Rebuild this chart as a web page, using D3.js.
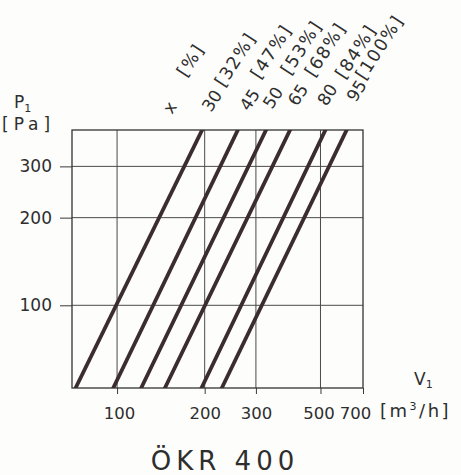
<!DOCTYPE html>
<html>
<head>
<meta charset="utf-8">
<script src="https://cdn.jsdelivr.net/npm/d3@7"></script>
<style>
  html, body { margin: 0; padding: 0; background: #fdfdfc; }
  svg { display: block; }
  text { font-family: "DejaVu Sans", sans-serif; fill: #2e2e2e; }
</style>
</head>
<body>
<svg id="chart" width="461" height="475"></svg>
<script>
// damper settings x [%] and their opening [%]
var settings = ["30", "45", "50", "65", "80", "95"];
var openings = [32, 47, 53, 68, 84, 100];
// flow V1 [m3/h] where each line meets the top and bottom of the frame
var flowAtTop = [196, 260, 325, 393, 520, 615];
var flowAtBottom = [72, 97, 121, 146, 195, 229];
var pressureEnds = [52, 400];   // P1 [Pa] at bottom / top of frame
var xTicks = [100, 200, 300, 500, 700];
var yTicks = [100, 200, 300];

var svg = d3.select("#chart");
var frameL = 72, frameR = 363, frameT = 130, frameB = 388;

var x = d3.scaleLog().domain([70, 700]).range([frameL, frameR]);
var y = d3.scaleLog().domain(pressureEnds).range([frameB, frameT]);

//grid
var grid = svg.append("g").attr("stroke", "#4a4a4a").attr("stroke-width", 1);
grid.selectAll(".vg")
  .data(xTicks.slice(0, -1))
  .enter().append("line")
  .attr("x1", function(d) { return x(d); })
  .attr("x2", function(d) { return x(d); })
  .attr("y1", frameT).attr("y2", frameB);
grid.selectAll(".hg")
  .data(yTicks)
  .enter().append("line")
  .attr("x1", frameL).attr("x2", frameR)
  .attr("y1", function(d) { return y(d); })
  .attr("y2", function(d) { return y(d); });

//axes
var xAxis = svg.append("g")
  .attr("transform", "translate(0," + frameB + ")")
  .call(d3.axisBottom(x).tickValues(xTicks).tickFormat(d3.format("d")).tickSize(6).tickPadding(13));
var yAxis = svg.append("g")
  .attr("transform", "translate(" + frameL + ",0)")
  .call(d3.axisLeft(y).tickValues(yTicks).tickFormat(d3.format("d")).tickSize(12).tickPadding(8));

[xAxis, yAxis].forEach(function(a) {
  a.select(".domain").remove();
  a.selectAll(".tick line").attr("stroke", "#3a3a3a");
  a.selectAll(".tick text").attr("font-size", 17).attr("fill", "#2e2e2e")
    .style("font-family", "'DejaVu Sans', sans-serif");
});
xAxis.selectAll(".tick text")
  .attr("font-size", 16.5)
  .attr("dx", function(d) { return d === 700 ? -8 : (d === 500 ? -2 : (d === 100 ? 2 : 0)); });

//frame
svg.append("rect")
  .attr("x", frameL).attr("y", frameT)
  .attr("width", frameR - frameL).attr("height", frameB - frameT)
  .attr("fill", "none").attr("stroke", "#333").attr("stroke-width", 1.3);

//characteristic lines
svg.append("clipPath").attr("id", "plot")
  .append("rect").attr("x", frameL).attr("y", frameT)
  .attr("width", frameR - frameL).attr("height", frameB - frameT);

var lineData = settings.map(function(s, i) {
  return [[flowAtBottom[i], pressureEnds[0]], [flowAtTop[i], pressureEnds[1]]];
});
var line = d3.line()
  .x(function(d) { return x(d[0]); })
  .y(function(d) { return y(d[1]); });

svg.append("g").attr("clip-path", "url(#plot)")
  .selectAll("path")
  .data(lineData)
  .enter().append("path")
  .attr("d", line)
  .attr("fill", "none")
  .attr("stroke", "#3b2d2f")
  .attr("stroke-width", 3.8)
  .attr("stroke-linecap", "square");

//rotated labels above the lines (offsets from each line's top end)
var numDx = [9, 11, 6, 7, 1, 9];
var numY = [113, 112, 110, 107, 107, 103];
var pctDx = [22, 22, 24, 24, 19, 18];
var pctY = [88, 80, 76, 78, 80, 81];
var angle = -57;

var labels = svg.append("g");
function rotLabel(px, py, txt, size, spacing) {
  labels.append("text")
    .attr("transform", "translate(" + px + "," + py + ") rotate(" + angle + ")")
    .attr("font-size", size)
    .attr("letter-spacing", spacing)
    .text(txt);
}
settings.forEach(function(s, i) {
  var x0 = x(flowAtTop[i]);
  rotLabel(x0 + numDx[i], numY[i], s, 17, 0);
  rotLabel(x0 + pctDx[i], pctY[i], "[" + openings[i] + "%]", 17.5, 1.5);
});
rotLabel(x(flowAtTop[0]) - 30, 115, "x", 17, 0);
rotLabel(x(flowAtTop[0]) - 16, 78, "[%]", 17.5, 1.5);

//axis titles
var pt = svg.append("text").attr("x", 14).attr("y", 108).attr("font-size", 17);
pt.append("tspan").text("P");
pt.append("tspan").attr("font-size", 11).attr("dy", 4).text("1");
svg.append("text").attr("x", 2).attr("y", 130).attr("font-size", 17)
  .attr("letter-spacing", 5).text("[Pa]");

var vt = svg.append("text").attr("x", 414).attr("y", 385).attr("font-size", 17);
vt.append("tspan").text("V");
vt.append("tspan").attr("font-size", 11).attr("dy", 3).text("1");
var unit = svg.append("text").attr("x", 380).attr("y", 417).attr("font-size", 18)
  .attr("letter-spacing", 2.5);
unit.append("tspan").text("[m");
unit.append("tspan").attr("font-size", 11).attr("dy", -7).text("3");
unit.append("tspan").attr("dy", 7).text("/h]");

svg.append("text")
  .attr("x", 225).attr("y", 470)
  .attr("text-anchor", "middle")
  .attr("font-size", 26)
  .attr("letter-spacing", 5)
  .text("ÖKR 400");
</script>
</body>
</html>
